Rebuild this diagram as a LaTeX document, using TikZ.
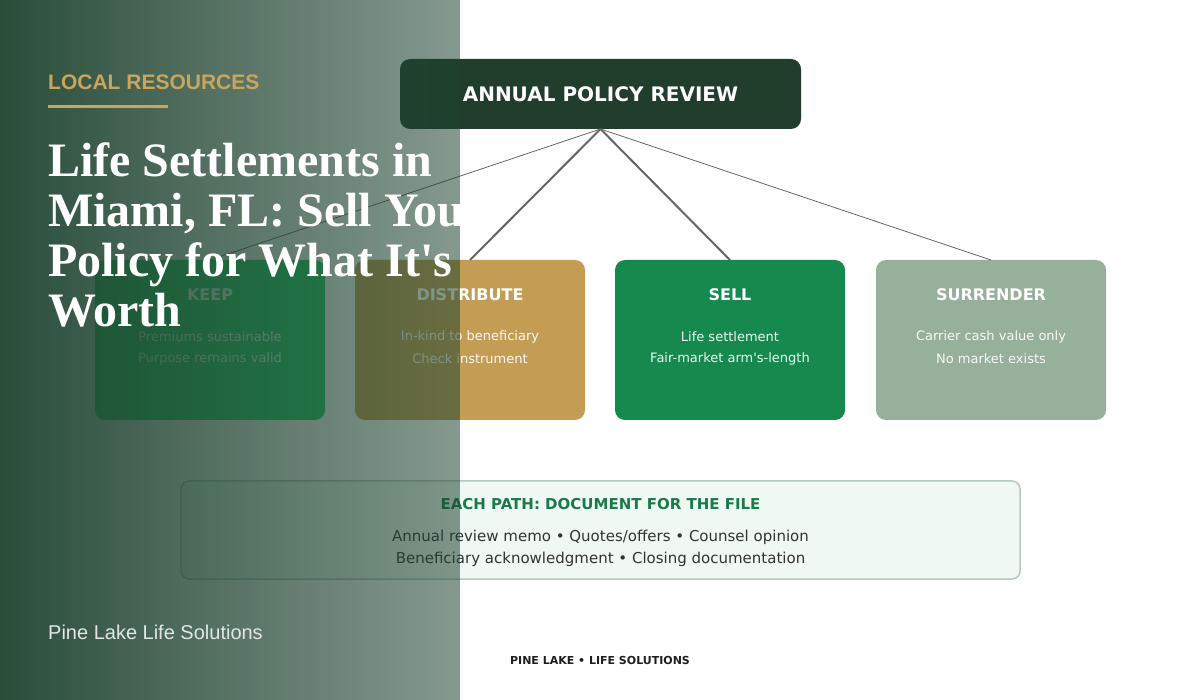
\documentclass[tikz,border=0pt]{standalone}
\usepackage{fontspec}
\newfontfamily\boxfont{DejaVu Sans}
\newfontfamily\headfont{Liberation Serif}
\newfontfamily\arialfont{Liberation Sans}
\usetikzlibrary{positioning,fadings}

\definecolor{reviewgreen}{HTML}{213D2B}
\definecolor{keepgreen}{HTML}{24CC6E}
\definecolor{distgold}{HTML}{C49D55}
\definecolor{sellgreen}{HTML}{168A4E}
\definecolor{surrsage}{HTML}{96B09C}
\definecolor{docfill}{HTML}{EFF8F2}
\definecolor{docline}{HTML}{B7CBBD}
\definecolor{doctitle}{HTML}{1A7A4A}
\definecolor{doctext}{HTML}{333333}
\definecolor{linkgray}{HTML}{666666}
\definecolor{panelgreen}{HTML}{1F4430}
\definecolor{accentgold}{HTML}{C9A55E}
\definecolor{brandgray}{HTML}{E1E7E3}

\tikzfading[name=panelfade, left color=transparent!5, right color=transparent!46]

\tikzset{
  pathbox/.style={rounded corners=10pt, minimum width=230pt, minimum height=160pt,
    inner sep=0pt, outer sep=0pt},
  pathtitle/.style={text=white, font=\boxfont\bfseries\fontsize{16}{19}\selectfont},
  pathtext/.style={text=white, text opacity=0.92, font=\boxfont\fontsize{13}{16}\selectfont},
  thinlink/.style={linkgray, line width=0.8pt},
  thicklink/.style={linkgray, line width=2pt},
  doclines/.style={text=doctext, font=\boxfont\fontsize{15}{18}\selectfont},
}

\begin{document}
\begin{tikzpicture}[x=1pt, y=-1pt]
  \useasboundingbox (0,0) rectangle (1200,700);
  \fill[white] (0,0) rectangle (1200,700);

  % review at the top
  \node[fill=reviewgreen, rounded corners=10pt, minimum width=401pt, minimum height=70pt,
    inner sep=0pt, outer sep=0pt, text=white,
    font=\boxfont\bfseries\fontsize{20}{24}\selectfont] (review) at (600.5,94) {ANNUAL POLICY REVIEW};

  % the four paths
  \foreach \name/\x/\col/\title/\la/\lb in {
      keep/210/keepgreen/KEEP/Premiums sustainable/Purpose remains valid,
      distribute/470/distgold/DISTRIBUTE/In-kind to beneficiary/Check instrument,
      sell/730/sellgreen/SELL/Life settlement/Fair-market arm's-length,
      surrender/991/surrsage/SURRENDER/Carrier cash value only/No market exists} {
    \node[pathbox, fill=\col] (\name) at (\x,340) {};
    \node[pathtitle] at ([yshift=-35pt]\name.north) {\title};
    \node[pathtext] at ([yshift=-77pt]\name.north) {\la};
    \node[pathtext] at ([yshift=-99pt]\name.north) {\lb};
  }
  \draw[thinlink] (review.south) -- (keep.north);
  \draw[thicklink] (review.south) -- (distribute.north);
  \draw[thicklink] (review.south) -- (sell.north);
  \draw[thinlink] (review.south) -- (surrender.north);

  % documentation box
  \node[draw=docline, line width=1.5pt, fill=docfill, rounded corners=8pt,
    minimum width=839pt, minimum height=98pt, inner sep=0pt] (docs) at (600.5,530) {};
  \node[text=doctitle, font=\boxfont\bfseries\fontsize{15}{18}\selectfont]
    at ([yshift=-24pt]docs.north) {EACH PATH: DOCUMENT FOR THE FILE};
  \node[doclines] at ([yshift=-57pt]docs.north) {Annual review memo • Quotes/offers • Counsel opinion};
  \node[doclines] at ([yshift=-79pt]docs.north) {Beneficiary acknowledgment • Closing documentation};

  \node[text=black!88, font=\boxfont\bfseries\fontsize{11}{13}\selectfont] (footer) at (600,660)
    {PINE LAKE • LIFE SOLUTIONS};

  % left panel
  \fill[panelgreen, path fading=panelfade] (0,0) rectangle (460,700);
  \node[anchor=base west, inner sep=0pt, text=accentgold,
    font=\arialfont\bfseries\fontsize{21}{25}\selectfont] (kicker) at (48,90) {LOCAL RESOURCES};
  \draw[accentgold, line width=3pt] ([yshift=-17pt]kicker.base west) -- ++(120,0);
  \begin{scope}
    \clip (0,0) rectangle (460,700);
    \foreach \ln [count=\i] in {Life Settlements in, {Miami, FL: Sell Your},
        Policy for What It's, Worth}
      \node[anchor=base west, inner sep=0pt, text=white,
        font=\headfont\bfseries\fontsize{48}{50}\selectfont] (title\i) at (48,127+50*\i) {\ln};
  \end{scope}
  \node[anchor=base west, inner sep=0pt, text=brandgray,
    font=\arialfont\fontsize{20}{24}\selectfont] (brand) at (48,639) {Pine Lake Life Solutions};
\end{tikzpicture}
\end{document}
